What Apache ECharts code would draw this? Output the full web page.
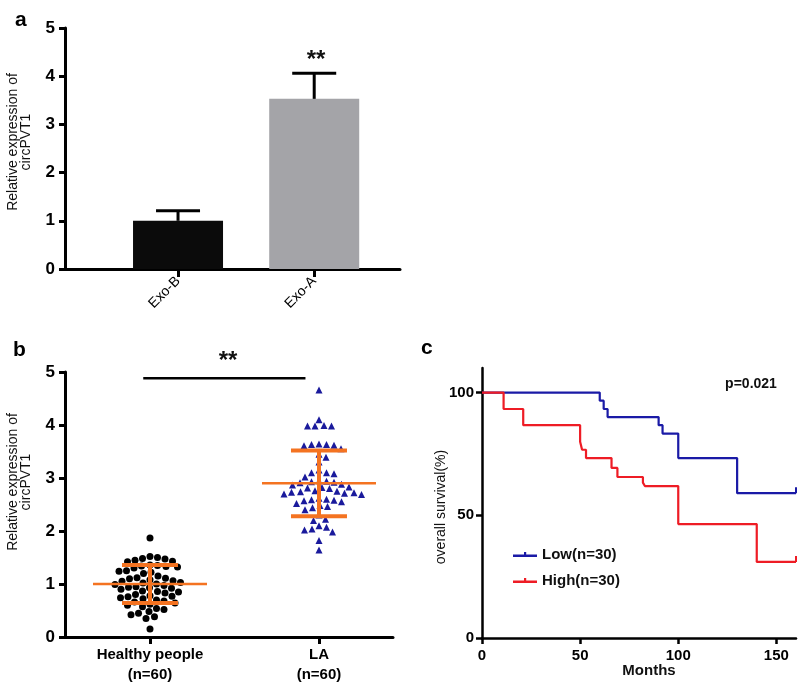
<!DOCTYPE html>
<html>
<head>
<meta charset="utf-8">
<script src="https://cdn.jsdelivr.net/npm/echarts@6/dist/echarts.min.js"></script>
<style>
  html, body { margin: 0; padding: 0; background: #fff; }
  #main { width: 800px; height: 685px; }
</style>
</head>
<body>
<div id="main"></div>
<script>
// panel a
const barCategories = ['Exo-B', 'Exo-A'];
const barValues = [1.0, 3.53];
const barErrors = [0.21, 0.53];
const barColors = ['#0b0b0b', '#a4a4a8'];

// panel b
const groupLabels = ['Healthy people\n(n=60)', 'LA\n(n=60)'];
const healthyValues = [
  1.87,
  1.52, 1.50, 1.48, 1.47, 1.45, 1.43, 1.42,
  1.36, 1.35, 1.34, 1.33, 1.32, 1.30,
  1.25, 1.24, 1.22, 1.20,
  1.15, 1.12, 1.11, 1.10, 1.08, 1.06, 1.05,
  1.03, 1.02, 1.00, 0.99,
  0.97, 0.95, 0.94, 0.93, 0.92, 0.90,
  0.87, 0.86, 0.85, 0.83, 0.80,
  0.78, 0.77, 0.76, 0.74, 0.72, 0.70,
  0.68, 0.66, 0.64, 0.62, 0.60,
  0.57, 0.54, 0.52, 0.48, 0.45,
  0.42, 0.38, 0.35,
  0.15
];
const laValues = [
  4.66,
  4.10,
  3.98, 3.98, 3.98, 3.99,
  3.63, 3.62, 3.61, 3.64, 3.63,
  3.55, 3.45, 3.39, 3.30,
  3.15, 3.10, 3.08, 3.10, 3.02,
  2.95, 2.94, 2.93, 2.92, 2.91, 2.88, 2.87,
  2.82, 2.81, 2.80, 2.83,
  2.76, 2.75, 2.74, 2.73, 2.72, 2.71, 2.70, 2.69,
  2.62, 2.60, 2.59, 2.58, 2.57, 2.55, 2.52,
  2.48, 2.46, 2.44, 2.40,
  2.30, 2.22, 2.20,
  2.10, 2.07, 2.04, 2.02, 1.98,
  1.82,
  1.64
];
const groupMeans = [1.0, 2.90];
const groupSDs = [0.36, 0.62];
const sigBar = [[-0.04, 4.88], [0.92, 4.88]];

// panel c
const survivalTicks = [0, 50, 100];
const monthTicks = [0, 50, 100, 150];
const lowCurve = [[0, 100], [60, 96.7], [62, 93.3], [64, 90], [90, 86.7], [92, 83.3],
  [100, 73.3], [130, 59], [160, 59]];
const highCurve = [[0, 100], [11, 93.3], [21, 86.7], [50, 80], [51, 76.7], [53, 73.3],
  [66, 69.3], [69, 65.6], [82, 63.3], [83, 61.9], [100, 46.4], [140, 31], [160, 31]];

const FONT = 'Arial, "Liberation Sans", sans-serif';
const LEGEND_ICON = 'path://M0,4h24v2.6H0z M11,1.5h2.2v4.5h-2.2z';

// simple beeswarm: spread points sideways so dots do not overlap
function swarm(values, center, pxPerX, pxPerY, gap) {
  const placed = [];
  const out = new Array(values.length);
  const order = values.map((v, i) => i).sort((a, b) => values[b] - values[a]);
  order.forEach(i => {
    const y = values[i] * pxPerY;
    let x = 0;
    for (let k = 0; k < 400; k++) {
      const cand = Math.ceil(k / 2) * (k % 2 ? 1 : -1) * 0.5;
      if (placed.every(p => (p.x - cand) ** 2 + (p.y - y) ** 2 >= gap * gap)) { x = cand; break; }
    }
    placed.push({ x: x, y: y });
    out[i] = [center + x / pxPerX, values[i]];
  });
  return out;
}

const healthyPts = swarm(healthyValues, 0, 169, 53.2, 7.5);
const laPts = swarm(laValues, 1, 169, 53.2, 7.5);

function axisBase(extra) {
  return Object.assign({
    axisLine: { show: true, onZero: false, lineStyle: { color: '#000', width: 3 } },
    axisTick: { show: true, length: 6, lineStyle: { color: '#000', width: 3 } },
    splitLine: { show: false },
    axisLabel: { color: '#000', fontFamily: FONT, fontWeight: 'bold', fontSize: 17, margin: 10 }
  }, extra);
}

const chart = echarts.init(document.getElementById('main'));

chart.setOption({
  animation: false,
  backgroundColor: '#fff',
  grid: [
    { left: 65, top: 28, width: 335, height: 241 },
    { left: 65, top: 372, width: 328, height: 266 },
    { left: 482, top: 368, width: 314, height: 270 }
  ],
  xAxis: [
    axisBase({
      gridIndex: 0, type: 'value', min: -0.83, max: 1.63,
      axisTick: { show: true, length: 8, customValues: [0, 1], lineStyle: { color: '#000', width: 3 } },
      axisLabel: { customValues: [0, 1], rotate: 45, color: '#000', fontFamily: FONT, fontSize: 14, margin: 10,
        formatter: v => barCategories[Math.round(v)] }
    }),
    axisBase({
      gridIndex: 1, type: 'value', min: -0.503, max: 1.438,
      axisTick: { show: true, length: 7, customValues: [0, 1], lineStyle: { color: '#000', width: 3 } },
      axisLabel: { customValues: [0, 1], color: '#000', fontFamily: FONT, fontWeight: 'bold', fontSize: 15,
        lineHeight: 20, margin: 8, formatter: v => groupLabels[Math.round(v)] }
    }),
    axisBase({
      gridIndex: 2, type: 'value', min: 0, max: 160,
      axisTick: { show: true, length: 6, customValues: monthTicks, lineStyle: { color: '#000', width: 2.5 } },
      axisLabel: { customValues: monthTicks, color: '#000', fontFamily: FONT, fontWeight: 'bold', fontSize: 15, margin: 10 },
      axisLine: { show: true, onZero: false, lineStyle: { color: '#000', width: 2.5 } }
    })
  ],
  yAxis: [
    axisBase({ gridIndex: 0, type: 'value', min: 0, max: 5, interval: 1 }),
    axisBase({ gridIndex: 1, type: 'value', min: 0, max: 5, interval: 1 }),
    axisBase({
      gridIndex: 2, type: 'value', min: 0, max: 110,
      axisTick: { show: true, length: 6, customValues: survivalTicks, lineStyle: { color: '#000', width: 2.5 } },
      axisLabel: { customValues: survivalTicks, color: '#000', fontFamily: FONT, fontWeight: 'bold', fontSize: 15, margin: 8 },
      axisLine: { show: true, onZero: false, lineStyle: { color: '#000', width: 2.5 } }
    })
  ],
  legend: {
    data: [
      { name: 'Low(n=30)', icon: LEGEND_ICON },
      { name: 'High(n=30)', icon: LEGEND_ICON }
    ],
    orient: 'vertical',
    left: 508, top: 542,
    itemWidth: 24, itemHeight: 8, itemGap: 11,
    textStyle: { color: '#111', fontFamily: FONT, fontWeight: 'bold', fontSize: 15 }
  },
  series: [
    {
      type: 'bar', xAxisIndex: 0, yAxisIndex: 0, barWidth: 90,
      data: barValues.map((v, i) => ({ value: [i, v], itemStyle: { color: barColors[i] } }))
    },
    {
      type: 'custom', xAxisIndex: 0, yAxisIndex: 0, z: 5,
      data: barValues.map((v, i) => [i, v, barErrors[i]]),
      renderItem: (params, api) => {
        const base = api.coord([api.value(0), api.value(1)]);
        const top = api.coord([api.value(0), api.value(1) + api.value(2)]);
        const st = { stroke: '#000', lineWidth: 3 };
        return { type: 'group', children: [
          { type: 'line', shape: { x1: base[0], y1: base[1], x2: top[0], y2: top[1] }, style: st },
          { type: 'line', shape: { x1: top[0] - 22, y1: top[1], x2: top[0] + 22, y2: top[1] }, style: st }
        ] };
      }
    },
    {
      type: 'scatter', xAxisIndex: 1, yAxisIndex: 1, symbol: 'circle', symbolSize: 7,
      itemStyle: { color: '#000', opacity: 1 }, data: healthyPts, z: 3
    },
    {
      type: 'scatter', xAxisIndex: 1, yAxisIndex: 1, symbol: 'triangle', symbolSize: 7,
      itemStyle: { color: '#1a1a9c', opacity: 1 }, data: laPts, z: 3
    },
    {
      type: 'custom', xAxisIndex: 1, yAxisIndex: 1, z: 4,
      data: groupMeans.map((m, i) => [i, m, groupSDs[i]]),
      renderItem: (params, api) => {
        const x = api.value(0), m = api.value(1), sd = api.value(2);
        const c = api.coord([x, m]);
        const hi = api.coord([x, m + sd]);
        const lo = api.coord([x, m - sd]);
        const thick = { stroke: '#f47321', lineWidth: 4 };
        return { type: 'group', children: [
          { type: 'line', shape: { x1: c[0] - 57, y1: c[1], x2: c[0] + 57, y2: c[1] }, style: { stroke: '#f47321', lineWidth: 2.5 } },
          { type: 'line', shape: { x1: hi[0], y1: hi[1], x2: lo[0], y2: lo[1] }, style: thick },
          { type: 'line', shape: { x1: hi[0] - 28, y1: hi[1], x2: hi[0] + 28, y2: hi[1] }, style: thick },
          { type: 'line', shape: { x1: lo[0] - 28, y1: lo[1], x2: lo[0] + 28, y2: lo[1] }, style: thick }
        ] };
      }
    },
    {
      type: 'line', xAxisIndex: 1, yAxisIndex: 1, data: sigBar, symbol: 'none',
      lineStyle: { color: '#000', width: 2.5 }, silent: true
    },
    {
      name: 'Low(n=30)', type: 'line', xAxisIndex: 2, yAxisIndex: 2, step: 'end',
      symbol: 'none', data: lowCurve, lineStyle: { color: '#1a1aa6', width: 2.2 }, itemStyle: { color: '#1a1aa6' }
    },
    {
      name: 'High(n=30)', type: 'line', xAxisIndex: 2, yAxisIndex: 2, step: 'end',
      symbol: 'none', data: highCurve, lineStyle: { color: '#ee1c25', width: 2.2 }, itemStyle: { color: '#ee1c25' }
    },
    {
      type: 'scatter', xAxisIndex: 2, yAxisIndex: 2, symbol: 'rect', symbolSize: [2, 6], symbolOffset: [0, -3],
      data: [
        { value: lowCurve[lowCurve.length - 1], itemStyle: { color: '#1a1aa6', opacity: 1 } },
        { value: highCurve[highCurve.length - 1], itemStyle: { color: '#ee1c25', opacity: 1 } }
      ]
    }
  ],
  graphic: [
    { type: 'text', left: 15, top: 10, style: { text: 'a', font: 'bold 21px ' + FONT, fill: '#000' } },
    { type: 'text', left: 13, top: 340, style: { text: 'b', font: 'bold 21px ' + FONT, fill: '#000' } },
    { type: 'text', left: 421, top: 338, style: { text: 'c', font: 'bold 21px ' + FONT, fill: '#000' } },
    { type: 'text', x: 20, y: 142, rotation: Math.PI / 2,
      style: { text: 'Relative expression of\ncircPVT1', font: '14px ' + FONT, fill: '#111', align: 'center', verticalAlign: 'middle', lineHeight: 13 } },
    { type: 'text', x: 20, y: 482, rotation: Math.PI / 2,
      style: { text: 'Relative expression of\ncircPVT1', font: '14px ' + FONT, fill: '#111', align: 'center', verticalAlign: 'middle', lineHeight: 13 } },
    { type: 'text', x: 441, y: 507, rotation: Math.PI / 2,
      style: { text: 'overall survival(%)', font: '14px ' + FONT, fill: '#111', align: 'center', verticalAlign: 'middle' } },
    { type: 'text', x: 649, y: 671,
      style: { text: 'Months', font: 'bold 15px ' + FONT, fill: '#111', align: 'center', verticalAlign: 'middle' } },
    { type: 'text', x: 751, y: 384,
      style: { text: 'p=0.021', font: 'bold 14px ' + FONT, fill: '#111', align: 'center', verticalAlign: 'middle' } },
    { type: 'text', x: 316, y: 60,
      style: { text: '**', font: 'bold 24px ' + FONT, fill: '#111', align: 'center', verticalAlign: 'middle' } },
    { type: 'text', x: 228, y: 361,
      style: { text: '**', font: 'bold 24px ' + FONT, fill: '#111', align: 'center', verticalAlign: 'middle' } }
  ]
});
</script>
</body>
</html>
